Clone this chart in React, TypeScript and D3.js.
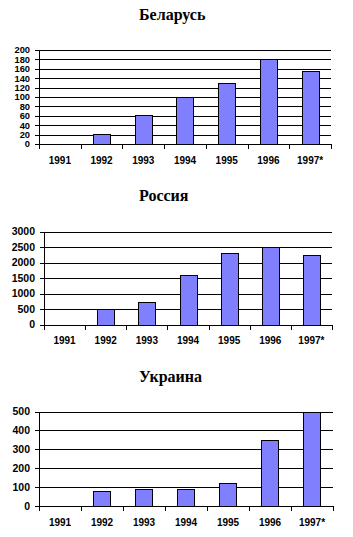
import React from "react";
import * as d3 from "d3";

const years = ["1991", "1992", "1993", "1994", "1995", "1996", "1997*"];
const belarusValues = [0, 22, 62, 100, 130, 180, 156];
const russiaValues = [0, 500, 740, 1600, 2300, 2500, 2250];
const ukraineValues = [0, 80, 90, 90, 120, 350, 500];
const belarusTicks = [0, 20, 40, 60, 80, 100, 120, 140, 160, 180, 200];
const russiaTicks = [0, 500, 1000, 1500, 2000, 2500, 3000];
const ukraineTicks = [0, 100, 200, 300, 400, 500];
const titles = ["Беларусь", "Россия", "Украина"];

const SANS = "'Liberation Sans', Arial, sans-serif";
const SERIF = "'Liberation Serif', 'Times New Roman', serif";

type ChartProps = {
  title: string;
  values: number[];
  ticks: number[];
  titleY: number;
  left: number;
  right: number;
  top: number;
  bottom: number;
  yFont: number;
};

function BarChart({ title, values, ticks, titleY, left, right, top, bottom, yFont }: ChartProps) {
  const x = d3.scaleBand<string>().domain(years).range([left, right]).padding(0);
  const y = d3.scaleLinear().domain([0, d3.max(ticks) as number]).range([bottom, top]);
  const bw = x.bandwidth() * 0.41;
  const boundaries = years.map((yr) => x(yr) as number).concat([right]);
  return (
    <g>
      <text x={139} y={titleY} fontFamily={SERIF} fontWeight="bold" fontSize={16} fill="#000">
        {title}
      </text>
      {ticks.map((t) => (
        <g key={t}>
          <line
            x1={left - 4}
            x2={right}
            y1={Math.round(y(t)) + 0.5}
            y2={Math.round(y(t)) + 0.5}
            stroke="#000"
            strokeWidth={1}
            shapeRendering="crispEdges"
          />
          <text
            x={left - 9}
            y={y(t)}
            dy="0.36em"
            textAnchor="end"
            fontFamily={SANS}
            fontWeight="bold"
            fontSize={yFont}
            fill="#000"
          >
            {t}
          </text>
        </g>
      ))}
      {years.map((yr, i) => {
        const cx = (x(yr) as number) + x.bandwidth() / 2;
        const v = values[i];
        if (v <= 0) return null;
        const y0 = Math.round(y(v));
        const y1 = Math.round(y(0));
        return (
          <rect
            key={yr}
            x={Math.round(cx - bw / 2) + 0.5}
            y={y0 + 0.5}
            width={Math.round(bw)}
            height={y1 - y0}
            fill="#8080FF"
            stroke="#000"
            strokeWidth={1}
            shapeRendering="crispEdges"
          />
        );
      })}
      <line
        x1={Math.round(left) + 0.5}
        x2={Math.round(left) + 0.5}
        y1={top}
        y2={bottom + 4}
        stroke="#000"
        strokeWidth={1}
        shapeRendering="crispEdges"
      />
      {boundaries.map((bx, i) => (
        <line
          key={i}
          x1={Math.round(bx) + 0.5}
          x2={Math.round(bx) + 0.5}
          y1={bottom}
          y2={bottom + 5}
          stroke="#000"
          strokeWidth={1}
          shapeRendering="crispEdges"
        />
      ))}
      {years.map((yr) => (
        <text
          key={yr}
          x={(x(yr) as number) + x.bandwidth() / 2}
          y={bottom + 16}
          dy="0.36em"
          textAnchor="middle"
          fontFamily={SANS}
          fontWeight="bold"
          fontSize={10}
          fill="#000"
        >
          {yr}
        </text>
      ))}
    </g>
  );
}

export default function App() {
  return (
    <svg
      width={353}
      height={537}
      style={{ position: "absolute", left: 0, top: 0, background: "#fff" }}
    >
      <rect x={0} y={0} width={353} height={537} fill="#fff" />
      <BarChart title={titles[0]} values={belarusValues} ticks={belarusTicks} titleY={20} left={39} right={331} top={50} bottom={144} yFont={9.3} />
      <BarChart title={titles[1]} values={russiaValues} ticks={russiaTicks} titleY={201} left={44} right={332} top={231.5} bottom={324.5} yFont={10.5} />
      <BarChart title={titles[2]} values={ukraineValues} ticks={ukraineTicks} titleY={382} left={39} right={333} top={411.5} bottom={506} yFont={10.5} />
    </svg>
  );
}
